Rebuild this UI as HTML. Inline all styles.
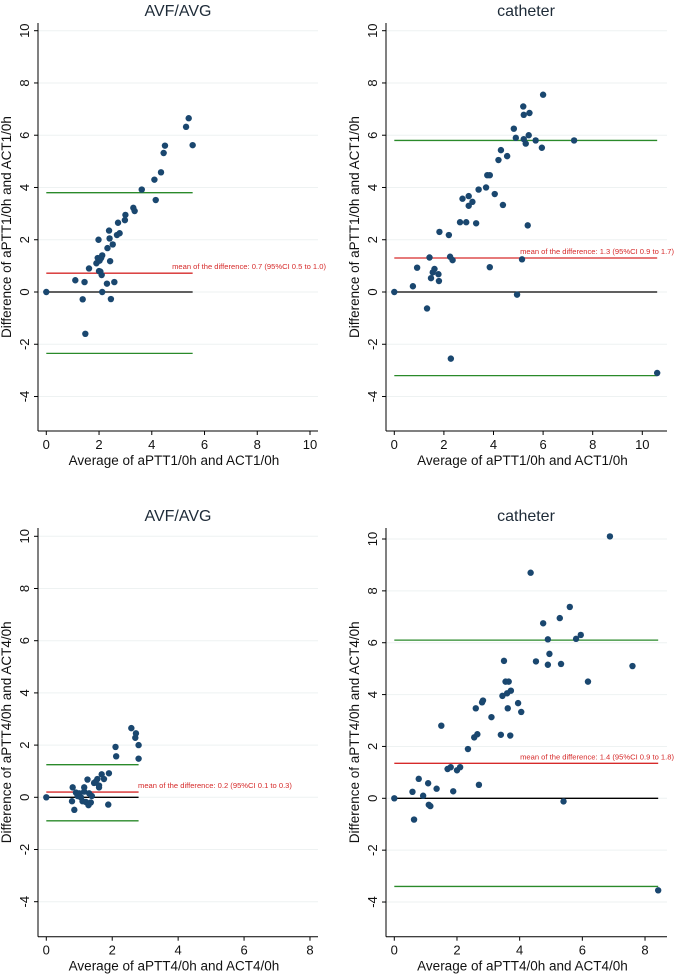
<!DOCTYPE html>
<html><head><meta charset="utf-8"><style>
html,body{margin:0;padding:0;background:#fff;}
svg{display:block;font-family:"Liberation Sans",sans-serif;}
</style></head><body>
<svg id="chart" width="675" height="975" viewBox="0 0 675 975" xmlns="http://www.w3.org/2000/svg"></svg>
<script>
// Panel 1: AVF/AVG, 1h
const p1x = [0,1.1,1.45,1.38,1.48,1.62,1.9,1.95,1.98,2.0,2.02,2.05,2.08,2.12,2.1,2.12,2.3,2.32,2.38,2.4,2.42,2.45,2.52,2.58,2.68,2.72,2.78,2.98,3.0,3.3,3.35,3.62,4.1,4.15,4.35,4.45,4.5,5.3,5.4,5.55];
const p1y = [0,0.45,0.38,-0.28,-1.6,0.9,1.1,1.3,2.0,0.8,1.2,0.78,1.3,1.4,0.65,0,0.32,1.68,2.35,2.05,1.18,-0.27,1.82,0.38,2.18,2.65,2.25,2.75,2.95,3.22,3.1,3.92,4.3,3.52,4.58,5.32,5.6,6.32,6.65,5.62];
const p1lines = [3.8, 0.72, -2.35];
// Panel 2: catheter, 1h
const p2x = [0,0.75,0.92,1.32,1.42,1.48,1.55,1.62,1.78,1.8,1.82,2.2,2.25,2.28,2.35,2.65,2.75,2.9,3.0,3.0,3.15,3.3,3.4,3.7,3.75,3.85,3.85,4.05,4.2,4.3,4.38,4.55,4.82,4.9,4.95,5.15,5.2,5.22,5.22,5.3,5.38,5.42,5.45,5.7,5.95,6.0,7.25,10.6];
const p2y = [0,0.22,0.93,-0.63,1.32,0.53,0.75,0.88,0.68,0.42,2.3,2.18,1.35,-2.55,1.22,2.67,3.57,2.67,3.3,3.67,3.45,2.63,3.92,4.0,4.47,4.47,0.95,3.75,5.05,5.43,3.33,5.2,6.25,5.9,-0.1,1.25,7.1,5.85,6.78,5.68,2.55,6.0,6.85,5.8,5.52,7.55,5.8,-3.1];
const p2lines = [5.8, 1.3, -3.2];
// Panel 3: AVF/AVG, 4h
const p3x = [0,0.78,0.8,0.85,0.9,0.95,1.0,1.05,1.1,1.15,1.15,1.2,1.25,1.28,1.3,1.35,1.38,1.45,1.5,1.55,1.6,1.6,1.68,1.75,1.88,1.9,2.1,2.12,2.58,2.7,2.72,2.8,2.8];
const p3y = [0,-0.15,0.38,-0.48,0.18,0.05,0.15,0.0,-0.15,0.38,0.22,-0.18,0.68,-0.3,0.15,-0.2,0.05,0.55,0.6,0.7,0.45,0.38,0.88,0.7,-0.28,0.92,1.93,1.57,2.65,2.28,2.45,2.0,1.48];
const p3lines = [1.25, 0.2, -0.9];
// Panel 4: catheter, 4h
const p4x = [0,0.58,0.63,0.78,0.92,1.08,1.1,1.15,1.35,1.5,1.7,1.8,1.88,2.0,2.1,2.35,2.55,2.6,2.65,2.7,2.8,2.83,3.1,3.4,3.45,3.5,3.55,3.6,3.62,3.65,3.7,3.72,3.95,4.05,4.35,4.52,4.75,4.9,4.9,4.95,5.28,5.32,5.4,5.6,5.8,5.95,6.18,6.88,7.6,8.42];
const p4y = [0,0.25,-0.82,0.75,0.1,0.58,-0.25,-0.3,0.37,2.8,1.13,1.2,0.27,1.08,1.2,1.9,2.35,3.47,2.47,0.52,3.7,3.77,3.13,2.45,3.95,5.3,4.5,4.05,3.47,4.5,2.42,4.15,3.67,3.33,8.7,5.28,6.75,5.15,6.13,5.57,6.95,5.18,-0.12,7.38,6.15,6.3,4.5,10.1,5.1,-3.55];
const p4lines = [6.1, 1.35, -3.4];
const yTicks = [-4,-2,0,2,4,6,8,10];
const xTicks1 = [0,2,4,6,8,10];
const xTicks2 = [0,2,4,6,8];
const titles = ["AVF/AVG","catheter","AVF/AVG","catheter"];
const meanLabels = ["mean of the difference: 0.7 (95%CI 0.5 to 1.0)","mean of the difference: 1.3 (95%CI 0.9 to 1.7)","mean of the difference: 0.2 (95%CI 0.1 to 0.3)","mean of the difference: 1.4 (95%CI 0.9 to 1.8)"];

const NS="http://www.w3.org/2000/svg";
const svg=document.getElementById('chart');
function mk(tag,attrs,parent){const e=document.createElementNS(NS,tag);for(const k in attrs)e.setAttribute(k,attrs[k]);(parent||svg).appendChild(e);return e;}

function panel(o){
  const g=mk('g',{});
  
  
  const sx=v=>o.x0+(v)*o.kx, sy=v=>o.y0-(v)*o.ky;
  // gridlines
  yTicks.forEach(t=>{const l=mk('line',{x1:o.axL,x2:o.axR,y1:sy(t),y2:sy(t),stroke:'#eef2f2','stroke-width':1},g);
    
    });
  // axes
  const ya=mk('line',{x1:o.axL,x2:o.axL,y1:o.axT,y2:o.axB,stroke:'#000','stroke-width':1},g);
  
  
  const xa=mk('line',{x1:o.axL,x2:o.axR,y1:o.axB,y2:o.axB,stroke:'#000','stroke-width':1},g);
  
  
  yTicks.forEach(t=>{
    mk('line',{x1:o.axL-4,x2:o.axL,y1:sy(t),y2:sy(t),stroke:'#000'},g);
    const tx=mk('text',{x:0,y:0,transform:`translate(${o.axL-9},${sy(t)}) rotate(-90)`,'text-anchor':'middle','font-size':13,fill:'#111'},g);
    tx.textContent=t;
    
    
  });
  o.xt.forEach(t=>{
    mk('line',{x1:sx(t),x2:sx(t),y1:o.axB,y2:o.axB+4,stroke:'#000'},g);
    const tx=mk('text',{x:sx(t),y:o.axB+18,'text-anchor':'middle','font-size':13,fill:'#111'},g);
    tx.textContent=t;
    
    
  });
  const ti=mk('text',{x:o.titleX,y:o.titleY,'text-anchor':'middle','font-size':16,fill:'#1e2b38'},g);
  ti.textContent=o.title;
  
  
  const xt=mk('text',{x:(o.axL+o.axR)/2-4,y:o.axB+34,'text-anchor':'middle','font-size':13.5,fill:'#111'},g);
  xt.textContent=o.xlab;
  
  
  const yt=mk('text',{x:0,y:0,transform:`translate(${o.axL-27},${(o.axT+o.axB)/2}) rotate(-90)`,'text-anchor':'middle','font-size':13.5,fill:'#111'},g);
  yt.textContent=o.ylab;
  
  
  // reference lines
  const xe=sx(o.xmax);
  const zl=mk('line',{x1:sx(0),x2:xe,y1:sy(0),y2:sy(0),stroke:'#000','stroke-width':1.3},g);
  
  
  const cols=['#2a8a2a','#d62a2a','#2a8a2a'];
  const names=['upper-limit-line','mean-difference-line','lower-limit-line'];
  o.lines.forEach((v,i)=>{const l=mk('line',{x1:sx(0),x2:xe,y1:sy(v),y2:sy(v),stroke:cols[i],'stroke-width':1.3},g);
    
    });
  const ml=mk('text',{x:o.mlX,y:sy(o.lines[1])-4,'text-anchor':o.mlAnchor,'font-size':7.6,fill:'#d62a2a'},g);
  ml.textContent=o.ml;
  
  
  o.px.forEach((v,i)=>{const c=mk('circle',{cx:sx(v),cy:sy(o.py[i]),r:3.2,fill:'#1a476f'},g);
    
    });
}
panel({name:'panel-avf-1h',x0:46.3,kx:26.37,y0:292,ky:26.13,axL:38,axR:318,axT:23,axB:431,xt:xTicks1,title:titles[0],titleX:178,titleY:16,
  xlab:'Average of aPTT1/0h and ACT1/0h',ylab:'Difference of aPTT1/0h and ACT1/0h',lines:p1lines,xmax:5.55,ml:meanLabels[0],mlX:326,mlAnchor:'end',px:p1x,py:p1y});
panel({name:'panel-catheter-1h',x0:394.3,kx:24.8,y0:292,ky:26.13,axL:386,axR:667,axT:23,axB:431,xt:xTicks1,title:titles[1],titleX:526,titleY:16,
  xlab:'Average of aPTT1/0h and ACT1/0h',ylab:'Difference of aPTT1/0h and ACT1/0h',lines:p2lines,xmax:10.6,ml:meanLabels[1],mlX:674,mlAnchor:'end',px:p2x,py:p2y});
panel({name:'panel-avf-4h',x0:46.3,kx:32.96,y0:797.3,ky:26.1,axL:38,axR:318,axT:528,axB:936.7,xt:xTicks2,title:titles[2],titleX:178,titleY:521,
  xlab:'Average of aPTT4/0h and ACT4/0h',ylab:'Difference of aPTT4/0h and ACT4/0h',lines:p3lines,xmax:2.8,ml:meanLabels[2],mlX:138,mlAnchor:'start',px:p3x,py:p3y});
panel({name:'panel-catheter-4h',x0:394.3,kx:31.34,y0:798.3,ky:25.93,axL:386,axR:667,axT:528,axB:936.7,xt:xTicks2,title:titles[3],titleX:526,titleY:521,
  xlab:'Average of aPTT4/0h and ACT4/0h',ylab:'Difference of aPTT4/0h and ACT4/0h',lines:p4lines,xmax:8.42,ml:meanLabels[3],mlX:674,mlAnchor:'end',px:p4x,py:p4y});
</script>
</body></html>
